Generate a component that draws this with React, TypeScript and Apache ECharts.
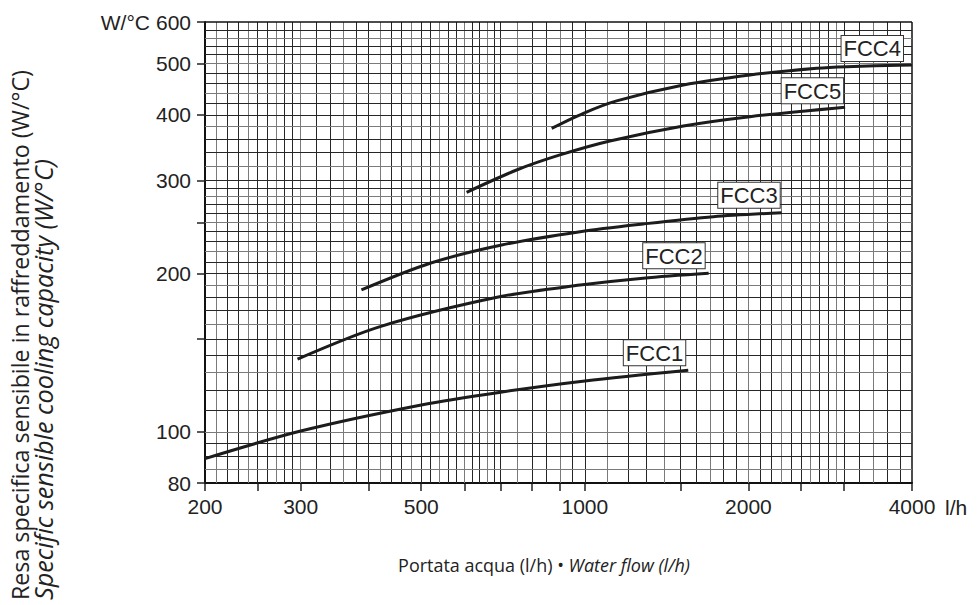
import React, { useEffect, useRef } from 'react';
import * as echarts from 'echarts';

// ---- axis definitions ----
const xTickValues = [200, 250, 300, 400, 500, 600, 700, 800, 900, 1000, 1500, 2000, 2500, 3000, 4000];
const xLabelValues = [200, 300, 500, 1000, 2000, 4000];
const yTickValues = [80, 100, 150, 200, 250, 300, 400, 500, 600];
const yLabelValues = [80, 100, 200, 300, 400, 500, 600];
// graph-paper grid: [from, to, step]
const xGridSegments = [[200, 300, 10], [300, 700, 20], [700, 1000, 50], [1000, 3000, 100], [3000, 4000, 200]];
const yGridSegments = [[80, 100, 5], [100, 300, 10], [300, 600, 20]];

// ---- series data (water flow l/h, W/°C) ----
const seriesNames = ['FCC1', 'FCC2', 'FCC3', 'FCC4', 'FCC5'];
const fcc1Flow = [200, 300, 500, 700, 1000, 1550];
const fcc1Cap = [89, 100.4, 112.5, 119, 125, 131];
const fcc2Flow = [296, 420, 700, 980, 1280, 1690];
const fcc2Cap = [137.5, 158.5, 180.7, 190, 195.8, 200];
const fcc3Flow = [388, 519, 703, 980, 1280, 1724, 2303];
const fcc3Cap = [186, 209, 226.4, 240, 248.2, 256.2, 260.7];
const fcc4Flow = [869, 994, 1144, 1518, 2013, 2671, 3034, 4000];
const fcc4Cap = [377, 402.6, 425, 455.6, 476, 490.2, 493.6, 497.2];
const fcc5Flow = [606, 749, 900, 1112, 1518, 2013, 3013];
const fcc5Cap = [285, 314.2, 335.6, 356.7, 380.9, 396.7, 413.4];

const flows = [fcc1Flow, fcc2Flow, fcc3Flow, fcc4Flow, fcc5Flow];
const caps = [fcc1Cap, fcc2Cap, fcc3Cap, fcc4Cap, fcc5Cap];

// label nudges (px) for the FCC tags
const tagShift = [[-3, -5], [-4, -5], [-2, -5], [-9, -4], [-2, -4]];

function expand(segs: number[][]): number[] {
  const out: number[] = [];
  segs.forEach(([a, b, s]) => {
    for (let v = a; v <= b + 1e-9; v += s) {
      if (!out.includes(v)) out.push(v);
    }
  });
  return out;
}

const TICK_FONT = '"Liberation Sans", Arial, Helvetica, sans-serif';
const TITLE_FONT = '"Open Sans", "Noto Sans", sans-serif';

function measure(text: string, style: string, size: number): number {
  const c = document.createElement('canvas').getContext('2d');
  if (!c) return text.length * size * 0.5;
  c.font = `${style} ${size}px "Open Sans"`;
  return c.measureText(text).width;
}

function fitSize(text: string, style: string, target: number, lo: number, hi: number): number {
  const w = measure(text, style, 100);
  return Math.max(lo, Math.min(hi, (target / w) * 100));
}

const yTitle1 = 'Resa specifica sensibile in raffreddamento (W/°C)';
const yTitle2 = 'Specific sensible cooling capacity (W/°C)';
const xTitleA = 'Portata acqua (l/h) • ';
const xTitleB = 'Water flow (l/h)';

export default function App() {
  const ref = useRef<HTMLDivElement>(null);
  useEffect(() => {
    if (!ref.current) return;
    const chart = echarts.init(ref.current, undefined, { renderer: 'svg' });
    const xGrid = expand(xGridSegments);
    const yGrid = expand(yGridSegments);
    const gridColor = (i: number, n: number) => (i === 0 || i === n - 1 ? '#111' : i % 3 === 1 ? '#7a7a7a' : '#262626');
    const gridLines: any[] = [];
    xGrid.forEach((v, i) => gridLines.push({ xAxis: v, lineStyle: { color: gridColor(i, xGrid.length), width: i === xGrid.length - 1 ? 1.5 : 1, type: 'solid' } }));
    yGrid.forEach((v, i) => gridLines.push({ yAxis: v, lineStyle: { color: gridColor(i, yGrid.length), width: i === yGrid.length - 1 ? 1.5 : 1, type: 'solid' } }));

    const t1 = fitSize(yTitle1, 'normal', 530, 16, 24);
    const t2 = Math.min(t1 + 2, fitSize(yTitle2, 'italic', 505, 16, 30));
    const wA = measure(xTitleA, 'normal', 100);
    const wB = measure(xTitleB, 'italic', 100);
    const t3 = Math.max(10, Math.min(24, (292 / (wA + wB)) * 100));

    const curveSeries = seriesNames.map((name, k) => {
      const fx = flows[k];
      const cy = caps[k];
      const last = fx.length - 1;
      return {
        name,
        type: 'line',
        data: fx.map((x, i) => [x, cy[i]]),
        smooth: 0.3,
        showSymbol: false,
        symbol: 'none',
        z: 5,
        lineStyle: { color: '#1c1c1c', width: 3 },
        markPoint: {
          symbol: 'circle',
          symbolSize: 0,
          silent: true,
          data: [{ coord: [fx[last], cy[last]], value: name }],
          label: {
            show: true,
            formatter: name,
            position: tagShift[k],
            align: 'right',
            verticalAlign: 'bottom',
            fontFamily: TICK_FONT,
            fontSize: 22,
            color: '#222',
            backgroundColor: '#fff',
            borderColor: '#333',
            borderWidth: 1,
            padding: [2, 2, 1, 2],
          },
          z: 6,
        },
      };
    });

    chart.setOption({
      animation: false,
      backgroundColor: '#fff',
      grid: { left: 205, top: 22, width: 707, height: 461, containLabel: false },
      xAxis: {
        type: 'log',
        logBase: 10,
        min: 200,
        max: 4000,
        name: 'l/h',
        nameLocation: 'end',
        nameGap: 33,
        nameTextStyle: { fontFamily: TICK_FONT, fontSize: 21, color: '#222', verticalAlign: 'top', padding: [14, 0, 0, 0] },
        axisLine: { show: true, lineStyle: { color: '#111', width: 2 } },
        axisTick: { show: true, length: 8, customValues: xTickValues, lineStyle: { color: '#222', width: 1.5 } },
        axisLabel: {
          customValues: xLabelValues,
          margin: 13,
          fontFamily: TICK_FONT,
          fontSize: 21,
          color: '#222',
          formatter: (v: number) => String(Math.round(v)),
        },
        splitLine: { show: false },
        minorTick: { show: false },
      },
      yAxis: {
        type: 'log',
        logBase: 10,
        min: 80,
        max: 600,
        name: 'W/°C',
        nameLocation: 'end',
        nameGap: 0,
        nameTextStyle: { fontFamily: TICK_FONT, fontSize: 21, color: '#222', align: 'right', verticalAlign: 'middle', padding: [0, 55, 0, 0] },
        axisLine: { show: true, lineStyle: { color: '#111', width: 2 } },
        axisTick: { show: true, length: 8, customValues: yTickValues, lineStyle: { color: '#222', width: 1.5 } },
        axisLabel: {
          customValues: yLabelValues,
          margin: 14,
          fontFamily: TICK_FONT,
          fontSize: 21,
          color: '#222',
          formatter: (v: number) => String(Math.round(v)),
        },
        splitLine: { show: false },
        minorTick: { show: false },
      },
      graphic: [
        {
          type: 'text',
          x: 20,
          y: 600,
          rotation: Math.PI / 2,
          style: {
            text: yTitle1,
            fontFamily: TITLE_FONT,
            fontSize: t1,
            fill: '#222',
            align: 'left',
            verticalAlign: 'middle',
            textAlign: 'left',
            textVerticalAlign: 'middle',
          },
        },
        {
          type: 'text',
          x: 43,
          y: 600,
          rotation: Math.PI / 2,
          style: {
            text: yTitle2,
            fontFamily: TITLE_FONT,
            fontSize: t2,
            fontStyle: 'italic',
            fill: '#222',
            align: 'left',
            verticalAlign: 'middle',
            textAlign: 'left',
            textVerticalAlign: 'middle',
          },
        },
        {
          type: 'text',
          x: 544,
          y: 565,
          style: {
            text: `{a|${xTitleA}}{b|${xTitleB}}`,
            rich: {
              a: { fontFamily: TITLE_FONT, fontSize: t3, color: '#222' },
              b: { fontFamily: TITLE_FONT, fontSize: t3, fontStyle: 'italic', color: '#222' },
            },
            fill: '#222',
            align: 'center',
            verticalAlign: 'middle',
            textAlign: 'center',
            textVerticalAlign: 'middle',
          },
        },
      ],
      series: [
        {
          name: 'grid',
          type: 'line',
          data: [],
          z: 1,
          silent: true,
          markLine: {
            silent: true,
            symbol: ['none', 'none'],
            label: { show: false },
            emphasis: { disabled: true },
            data: gridLines,
          },
        },
        ...curveSeries,
      ],
    });
    return () => chart.dispose();
  }, []);
  return <div ref={ref} style={{ position: 'fixed', left: 0, top: 0, width: 977, height: 605 }} />;
}
